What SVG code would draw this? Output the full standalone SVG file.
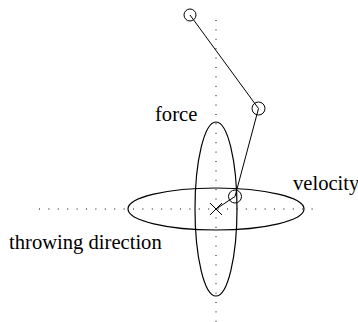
<svg xmlns="http://www.w3.org/2000/svg" width="358" height="322" viewBox="0 0 358 322">
<style>
.ln{fill:none;stroke:#000;stroke-width:1}
.dot{fill:none;stroke:#000;stroke-width:1;stroke-dasharray:1 8.4}
.el{fill:none;stroke:#000;stroke-width:1.2}
text{font-family:"Liberation Serif","Times New Roman",serif;font-size:20.6px;fill:#000}
</style>
<rect width="358" height="322" fill="#fff"/>
<g id="axes">
<line class="dot" x1="216" y1="20" x2="216" y2="322"/>
<line class="dot" x1="39" y1="209" x2="314" y2="209"/>
</g>
<g id="ellipses">
<ellipse class="el" cx="216" cy="209" rx="88" ry="21"/>
<ellipse class="el" cx="216" cy="209" rx="21" ry="87"/>
</g>
<g id="connectors">
<line class="ln" x1="190" y1="15" x2="258.5" y2="108.5"/>
<line class="ln" x1="258.5" y1="108.5" x2="235" y2="196.5"/>
<line class="ln" x1="235" y1="196.5" x2="216" y2="209"/>
</g>
<g id="joint1"><circle class="ln" cx="190" cy="15" r="6"/></g>
<g id="joint2"><circle class="ln" cx="258.5" cy="108.5" r="6.5"/></g>
<g id="joint3"><circle class="ln" cx="235" cy="196.5" r="6.5"/></g>
<g id="center">
<line class="ln" x1="210" y1="203" x2="222" y2="215"/>
<line class="ln" x1="210" y1="215" x2="222" y2="203"/>
</g>
<g id="labels">
<text x="155" y="121">force</text>
<text x="293" y="190">velocity</text>
<text x="9" y="248.5">throwing direction</text>
</g>
</svg>
